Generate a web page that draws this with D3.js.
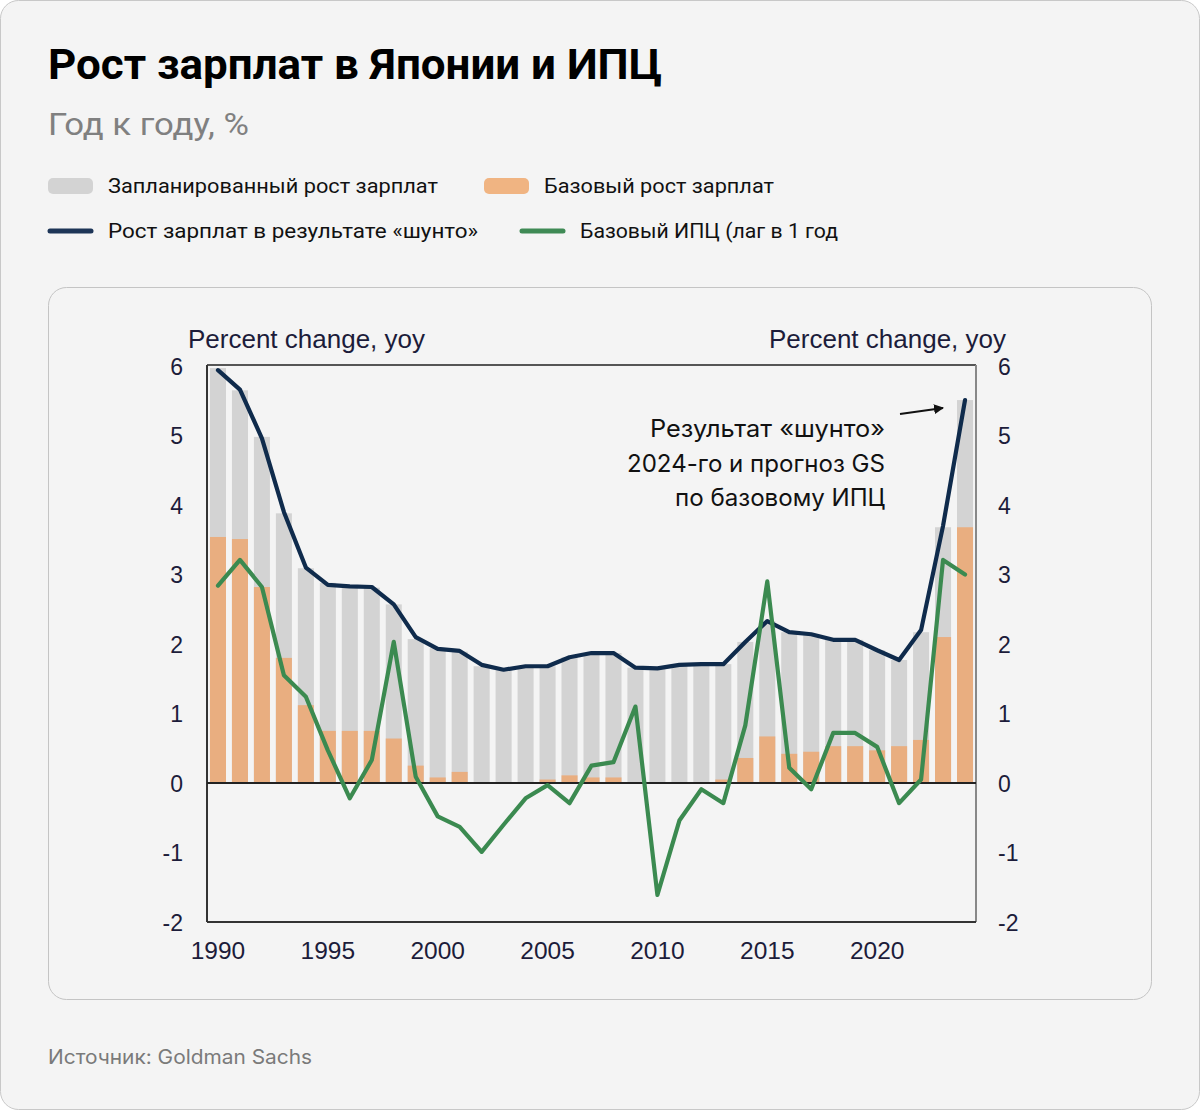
<!DOCTYPE html>
<html><head><meta charset="utf-8">
<script src="https://cdn.jsdelivr.net/npm/d3@7"></script>
<style>
html,body{margin:0;padding:0;background:#fff;}
svg{display:block;}
</style></head>
<body>
<svg id="c" width="1200" height="1110"></svg>
<script>
const years = d3.range(1990, 2025);
const plannedWage = [5.97,5.65,4.98,3.88,3.09,2.88,2.81,2.81,2.57,2.07,1.94,1.89,1.68,1.63,1.68,1.68,1.81,1.87,1.87,1.66,1.65,1.70,1.71,1.71,2.03,2.33,2.17,2.14,2.06,2.06,1.91,1.77,2.17,3.68,5.51];
const baseWage = [3.54,3.51,2.82,1.80,1.12,0.75,0.75,0.75,0.64,0.25,0.08,0.16,0,0,0,0.05,0.11,0.08,0.08,0,0,0,0,0.05,0.36,0.67,0.42,0.45,0.53,0.53,0.47,0.53,0.62,2.10,3.68];
const shuntoLine = [5.94,5.66,4.96,3.90,3.10,2.85,2.83,2.82,2.57,2.10,1.93,1.90,1.70,1.63,1.68,1.68,1.81,1.87,1.87,1.66,1.65,1.70,1.71,1.71,2.03,2.33,2.17,2.14,2.06,2.06,1.91,1.77,2.20,3.70,5.51];
const coreCpiLag = [2.84,3.21,2.82,1.55,1.24,0.47,-0.22,0.33,2.03,0.09,-0.48,-0.63,-0.99,-0.60,-0.22,-0.03,-0.29,0.25,0.30,1.10,-1.61,-0.54,-0.09,-0.29,0.83,2.90,0.22,-0.09,0.72,0.72,0.52,-0.29,0.05,3.21,3.00];
const yTicks = [-2,-1,0,1,2,3,4,5,6];
const xTickYears = [1990,1995,2000,2005,2010,2015,2020];
const legendItems = [
  {label:"Запланированный рост зарплат", type:"bar", color:"#d3d3d3"},
  {label:"Базовый рост зарплат", type:"bar", color:"#f0b482"},
  {label:"Рост зарплат в результате «шунто»", type:"line", color:"#1d3557"},
  {label:"Базовый ИПЦ (лаг в 1 год", type:"line", color:"#3f8a55"}
];
const annotationLines = ["Результат «шунто»","2024-го и прогноз GS","по базовому ИПЦ"];

const svg = d3.select("#c");
const C = {grey:"#d3d3d3", orange:"#e9ae80", navy:"#0f2b4c", green:"#3b8a50"};

// card
svg.append("rect").attr("x",0.5).attr("y",0.5).attr("width",1199).attr("height",1109)
  .attr("rx",18).attr("fill","#f4f4f4").attr("stroke","#c8c8c8");
svg.append("text").attr("x",48).attr("y",79).attr("font-family","Roboto").attr("font-weight",700)
  .attr("font-size",42).attr("fill","#000").attr("textLength",614).attr("lengthAdjust","spacingAndGlyphs")
  .text("Рост зарплат в Японии и ИПЦ");
svg.append("text").attr("x",48).attr("y",135).attr("font-family","Roboto")
  .attr("font-size",31).attr("fill","#808080").attr("textLength",201).attr("lengthAdjust","spacingAndGlyphs")
  .text("Год к году, %");

// legend
const legPos = [{x:48,y:186,tw:330},{x:484,y:186,tw:230},{x:48,y:231,tw:370},{x:520,y:231,tw:258}];
legendItems.forEach((d,i)=>{
  const p = legPos[i];
  if(d.type==="bar"){
    svg.append("rect").attr("x",p.x).attr("y",p.y-8).attr("width",45).attr("height",16).attr("rx",5).attr("fill",d.color);
  } else {
    svg.append("line").attr("x1",p.x+2).attr("x2",p.x+43).attr("y1",p.y).attr("y2",p.y)
      .attr("stroke",d.color).attr("stroke-width",5).attr("stroke-linecap","round");
  }
  svg.append("text").attr("x",p.x+60).attr("y",p.y+7).attr("font-family","Roboto").attr("font-size",20.5)
    .attr("fill","#111").attr("textLength",p.tw).attr("lengthAdjust","spacingAndGlyphs").text(d.label);
});

// inner box
svg.append("rect").attr("x",48.5).attr("y",287.5).attr("width",1103).attr("height",712)
  .attr("rx",18).attr("fill","#f4f4f4").attr("stroke","#c4c4c4");

// source
svg.append("text").attr("x",48).attr("y",1064).attr("font-family","Inter").attr("font-size",20)
  .attr("fill","#7a7a7a").attr("textLength",264).attr("lengthAdjust","spacingAndGlyphs").text("Источник: Goldman Sachs");

// scales
const L=207, R=976, T=365, B=922;
const x = d3.scaleBand().domain(years).range([L,R]).paddingInner(0.27).paddingOuter(0.135);
const y = d3.scaleLinear().domain([-2,6]).range([B,T+1]);
const cx = yr => x(yr)+x.bandwidth()/2;

const g = svg.append("g");
g.selectAll("rect.pl").data(years).join("rect").attr("class","pl")
  .attr("x",d=>x(d)).attr("width",x.bandwidth())
  .attr("y",(d,i)=>y(plannedWage[i])).attr("height",(d,i)=>y(0)-y(plannedWage[i]))
  .attr("fill",C.grey);
g.selectAll("rect.bw").data(years).join("rect").attr("class","bw")
  .attr("x",d=>x(d)).attr("width",x.bandwidth())
  .attr("y",(d,i)=>y(baseWage[i])).attr("height",(d,i)=>y(0)-y(baseWage[i]))
  .attr("fill",C.orange);

// frame
svg.append("line").attr("x1",L).attr("x2",R).attr("y1",T).attr("y2",T).attr("stroke","#555").attr("stroke-width",2);
svg.append("line").attr("x1",R).attr("x2",R).attr("y1",T).attr("y2",B).attr("stroke","#888").attr("stroke-width",2);
svg.append("line").attr("x1",L).attr("x2",L).attr("y1",T).attr("y2",B).attr("stroke","#333").attr("stroke-width",2);
svg.append("line").attr("x1",L).attr("x2",R).attr("y1",B).attr("y2",B).attr("stroke","#333").attr("stroke-width",2);
svg.append("line").attr("x1",L).attr("x2",R).attr("y1",y(0)).attr("y2",y(0)).attr("stroke","#222").attr("stroke-width",1.8);

// lines
const line = d3.line().x((d,i)=>cx(years[i])).y(d=>y(d)).curve(d3.curveLinear);
svg.append("path").datum(shuntoLine).attr("d",line).attr("fill","none")
  .attr("stroke",C.navy).attr("stroke-width",4.2).attr("stroke-linejoin","round").attr("stroke-linecap","round");
svg.append("path").datum(coreCpiLag).attr("d",line).attr("fill","none")
  .attr("stroke",C.green).attr("stroke-width",4.2).attr("stroke-linejoin","round").attr("stroke-linecap","round");

// axes
const axisFont = "Liberation Sans, Arial, sans-serif";
const tcol = "#1c1c3a";
const fmt = d => String(d);
const leftAxis = d3.axisLeft(y).tickValues(yTicks).tickSize(0).tickPadding(0).tickFormat(fmt);
const la = svg.append("g").attr("transform",`translate(${L-24},0)`).call(leftAxis);
const rightAxis = d3.axisRight(y).tickValues(yTicks).tickSize(0).tickPadding(0).tickFormat(fmt);
const ra = svg.append("g").attr("transform",`translate(${R+22},0)`).call(rightAxis);
const bottomAxis = d3.axisBottom(x).tickValues(xTickYears).tickSize(0).tickPadding(0);
const ba = svg.append("g").attr("transform",`translate(0,${B+20})`).call(bottomAxis);
[la,ra,ba].forEach(a=>{
  a.select(".domain").remove();
  a.selectAll("text").attr("font-family",axisFont).attr("font-size",23).attr("fill",tcol);
});
la.selectAll("text").attr("dy","0.35em");
ra.selectAll("text").attr("dy","0.35em");
ba.selectAll("text").attr("dy","0.71em").attr("font-size",24.5);

svg.append("text").attr("x",188).attr("y",348).attr("font-family",axisFont).attr("font-size",25)
  .attr("fill",tcol).attr("textLength",237).attr("lengthAdjust","spacingAndGlyphs").text("Percent change, yoy");
svg.append("text").attr("x",769).attr("y",348).attr("font-family",axisFont).attr("font-size",25)
  .attr("fill",tcol).attr("textLength",237).attr("lengthAdjust","spacingAndGlyphs").text("Percent change, yoy");

// annotation
const annW = [235,258,210];
annotationLines.forEach((t,i)=>{
  svg.append("text").attr("font-family","Inter").attr("font-size",24).attr("fill","#111")
    .attr("x",885-annW[i]).attr("y",437+i*34.5).attr("textLength",annW[i]).attr("lengthAdjust","spacingAndGlyphs").text(t);
});
svg.append("defs").append("marker").attr("id","ah").attr("viewBox","0 0 10 10").attr("refX",9).attr("refY",5)
  .attr("markerWidth",5).attr("markerHeight",5).attr("orient","auto")
  .append("path").attr("d","M0,0 L10,5 L0,10 z").attr("fill","#111");
svg.append("line").attr("x1",900).attr("y1",414).attr("x2",943).attr("y2",408)
  .attr("stroke","#111").attr("stroke-width",2).attr("marker-end","url(#ah)");
</script>
</body></html>
